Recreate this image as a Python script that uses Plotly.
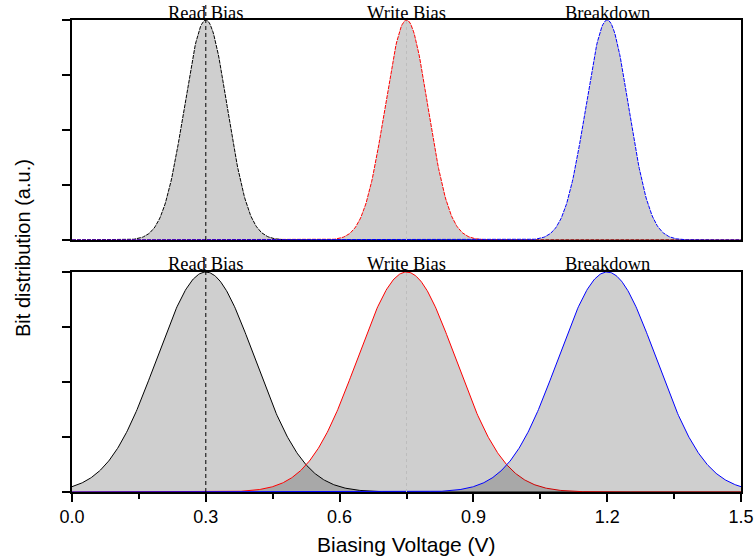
import numpy as np
import plotly.graph_objects as go

# ---- data ----
CENTERS = [0.3, 0.75, 1.2]                      # peak voltages (V)
LABELS = ["Read Bias", "Write Bias", "Breakdown"]
SIGMA_TOP = [0.048, 0.048, 0.048]               # narrow distribution (top panel)
SIGMA_BOTTOM = [0.11, 0.11, 0.11]               # wide distribution (bottom panel)
PEAK = [1.0, 1.0, 1.0]
X_TICKS = [0.0, 0.3, 0.6, 0.9, 1.2, 1.5]
X_TICK_LABELS = ["0.0", "0.3", "0.6", "0.9", "1.2", "1.5"]
X_MINOR_TICKS = [0.15, 0.45, 0.75, 1.05, 1.35]
Y_TICKS = [0, 0.25, 0.5, 0.75, 1.0]

COLORS = ["black", "red", "blue"]
FILL = "rgba(0,0,0,0.19)"

x = np.linspace(0.0, 1.5, 751)


def dist(c, s, a):
    return a * np.exp(-((x - c) ** 2) / (2 * s ** 2))


fig = go.Figure()

# top panel (narrow)
for c, s, a, col in zip(CENTERS, SIGMA_TOP, PEAK, COLORS):
    fig.add_trace(go.Scatter(
        x=x, y=dist(c, s, a), mode="lines", fill="tozeroy", fillcolor=FILL,
        line=dict(color=col, width=1, dash="4px,1px"),
        xaxis="x", yaxis="y", showlegend=False, hoverinfo="skip"))

# bottom panel (wide)
for c, s, a, col in zip(CENTERS, SIGMA_BOTTOM, PEAK, COLORS):
    fig.add_trace(go.Scatter(
        x=x, y=dist(c, s, a), mode="lines", fill="tozeroy", fillcolor=FILL,
        line=dict(color=col, width=1),
        xaxis="x2", yaxis="y2", showlegend=False, hoverinfo="skip"))

TOP_DOM = [0.5339, 1.0]
BOT_DOM = [0.0, 0.4661]

axis_common = dict(showline=True, linecolor="black", linewidth=1.5, mirror=True,
                   showgrid=False, zeroline=False, automargin=False)

fig.update_layout(
    width=754, height=559,
    margin=dict(l=72, r=13, t=20, b=67, autoexpand=False),
    paper_bgcolor="white", plot_bgcolor="white",
    xaxis=dict(domain=[0, 1], anchor="y", range=[0, 1.5], showticklabels=False,
               ticks="", **axis_common),
    yaxis=dict(domain=TOP_DOM, anchor="x", range=[0, 1], tickvals=Y_TICKS,
               ticks="outside", ticklen=8, tickwidth=1.5, tickcolor="black",
               showticklabels=False, **axis_common),
    xaxis2=dict(domain=[0, 1], anchor="y2", range=[0, 1.5],
                tickmode="array", tickvals=X_TICKS, ticktext=X_TICK_LABELS,
                ticks="outside", ticklen=8, tickwidth=1.5, tickcolor="black",
                minor=dict(tickmode="array", tickvals=X_MINOR_TICKS, ticks="outside",
                           ticklen=5, tickwidth=1.5, tickcolor="black"),
                tickfont=dict(family="Liberation Sans", size=18, color="black"),
                ticklabelstandoff=0,
                **axis_common),
    yaxis2=dict(domain=BOT_DOM, anchor="x2", range=[0, 1], tickvals=Y_TICKS,
                ticks="outside", ticklen=8, tickwidth=1.5, tickcolor="black",
                showticklabels=False, **axis_common),
)

shapes = []
# dashed marker at read bias, dotted at write bias
shapes.append(dict(type="line", xref="x", yref="paper", x0=CENTERS[0], x1=CENTERS[0],
                   y0=TOP_DOM[0], y1=1.0318, line=dict(color="black", width=1, dash="4px,3px"),
                   layer="above"))
shapes.append(dict(type="line", xref="x2", yref="paper", x0=CENTERS[0], x1=CENTERS[0],
                   y0=BOT_DOM[0], y1=0.4958, line=dict(color="black", width=1, dash="4px,3px"),
                   layer="above"))
shapes.append(dict(type="line", xref="x", yref="paper", x0=CENTERS[1], x1=CENTERS[1],
                   y0=TOP_DOM[0], y1=TOP_DOM[1], line=dict(color="#bdbdbd", width=1, dash="dot"),
                   layer="above"))
shapes.append(dict(type="line", xref="x2", yref="paper", x0=CENTERS[1], x1=CENTERS[1],
                   y0=BOT_DOM[0], y1=BOT_DOM[1], line=dict(color="#bdbdbd", width=1, dash="dot"),
                   layer="above"))
fig.update_layout(shapes=shapes)

annotations = []
for c, lab in zip(CENTERS, LABELS):
    annotations.append(dict(text=lab, x=c, xref="x", y=1.0148, yref="paper",
                            xanchor="center", yanchor="middle", showarrow=False,
                            font=dict(family="Liberation Serif", size=18.5, color="black")))
    annotations.append(dict(text=lab, x=c, xref="x2", y=0.483, yref="paper",
                            xanchor="center", yanchor="middle", showarrow=False,
                            font=dict(family="Liberation Serif", size=18.5, color="black")))

annotations.append(dict(text="Biasing Voltage (V)", x=0.5, xref="paper", y=-0.1102, yref="paper",
                        xanchor="center", yanchor="middle", showarrow=False,
                        font=dict(family="Liberation Sans", size=21, color="black")))
annotations.append(dict(text="Bit distribution (a.u.)", x=-0.0732, xref="paper", y=0.517,
                        yref="paper", xanchor="center", yanchor="middle", showarrow=False,
                        textangle=-90,
                        font=dict(family="Liberation Sans", size=20, color="black")))
fig.update_layout(annotations=annotations)

fig.write_html("out.html", config={"displayModeBar": False},
               post_script="document.body.style.margin='0px';document.body.style.overflow='hidden';")
